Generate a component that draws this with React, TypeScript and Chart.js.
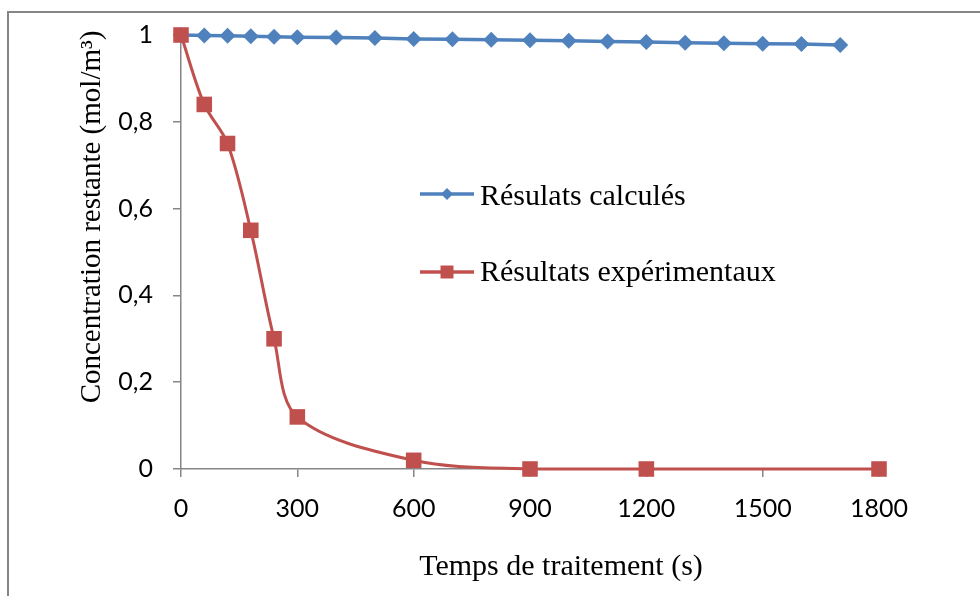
import React, { useEffect, useRef } from 'react';
import { Chart, registerables } from 'chart.js';

Chart.register(...registerables);

// ---- Data ----
const calcTimes = [0, 60, 120, 180, 240, 300, 400, 500, 600, 700, 800, 900, 1000, 1100, 1200, 1300, 1400, 1500, 1600, 1700];
const calcValues = [1, 0.999, 0.998, 0.997, 0.996, 0.995, 0.994, 0.993, 0.991, 0.99, 0.989, 0.988, 0.987, 0.985, 0.984, 0.982, 0.981, 0.98, 0.979, 0.977];
const expTimes = [0, 60, 120, 180, 240, 300, 600, 900, 1200, 1800];
const expValues = [1, 0.84, 0.75, 0.55, 0.3, 0.12, 0.02, 0, 0, 0];
const seriesNames = ['Résulats calculés', 'Résultats expérimentaux'];
const xTitle = 'Temps de traitement (s)';
const yTitle = 'Concentration restante (mol/m³)';
const xTickValues = [0, 300, 600, 900, 1200, 1500, 1800];
const yTickValues = [0, 0.2, 0.4, 0.6, 0.8, 1];

const BLUE = '#4F81BD';
const RED = '#C0504D';
const AXIS = '#868686';
const SERIF = '"Liberation Serif", "Times New Roman", serif';
const SANS = 'Lato, "Open Sans", sans-serif';

const decorPlugin = {
  id: 'decor',
  beforeDraw(chart: any) {
    const ctx = chart.ctx as CanvasRenderingContext2D;
    ctx.save();
    ctx.fillStyle = '#fff';
    ctx.fillRect(0, 0, chart.width, chart.height);
    ctx.strokeStyle = AXIS;
    ctx.lineWidth = 2;
    ctx.beginPath();
    ctx.moveTo(7, 12);
    ctx.lineTo(chart.width, 12);
    ctx.moveTo(8, 11);
    ctx.lineTo(8, chart.height);
    ctx.stroke();
    ctx.restore();
  },
  afterDraw(chart: any) {
    const ctx = chart.ctx as CanvasRenderingContext2D;
    ctx.save();
    // legend
    const items = [
      { color: BLUE, y: 194, shape: 'diamond', text: seriesNames[0], base: 205 },
      { color: RED, y: 272, shape: 'square', text: seriesNames[1], base: 281 },
    ];
    for (const it of items) {
      ctx.strokeStyle = it.color;
      ctx.lineWidth = 3.5;
      ctx.beginPath();
      ctx.moveTo(420, it.y);
      ctx.lineTo(474, it.y);
      ctx.stroke();
      ctx.fillStyle = it.color;
      ctx.beginPath();
      if (it.shape === 'diamond') {
        const r = 6;
        ctx.moveTo(447 - r, it.y);
        ctx.lineTo(447, it.y - r);
        ctx.lineTo(447 + r, it.y);
        ctx.lineTo(447, it.y + r);
        ctx.closePath();
      } else {
        ctx.rect(447 - 6.5, it.y - 6.5, 13, 13);
      }
      ctx.fill();
      ctx.fillStyle = '#000';
      ctx.font = '30px ' + SERIF;
      ctx.textAlign = 'left';
      ctx.textBaseline = 'alphabetic';
      ctx.fillText(it.text, 480, it.base);
    }
    // x title
    ctx.font = '30px ' + SERIF;
    ctx.textAlign = 'center';
    ctx.textBaseline = 'alphabetic';
    ctx.fillText(xTitle, 561, 575);
    // y title
    ctx.translate(100, 217);
    ctx.rotate(-Math.PI / 2);
    ctx.font = '29px ' + SERIF;
    ctx.textAlign = 'center';
    ctx.fillText(yTitle, 0, 0);
    ctx.restore();
  },
};

export default function App() {
  const ref = useRef<HTMLCanvasElement>(null);
  useEffect(() => {
    let chart: Chart | null = null;
    let cancelled = false;
    const make = () => {
      if (cancelled || !ref.current) return;
      chart = new Chart(ref.current, {
        type: 'line',
        data: {
          datasets: [
            {
              label: seriesNames[0],
              data: calcTimes.map((t, i) => ({ x: t, y: calcValues[i] })),
              borderColor: BLUE,
              backgroundColor: BLUE,
              borderWidth: 3.5,
              pointStyle: 'rectRot',
              pointRadius: 8,
              pointBorderWidth: 0,
              tension: 0,
              clip: false as any,
              order: 2,
            },
            {
              label: seriesNames[1],
              data: expTimes.map((t, i) => ({ x: t, y: expValues[i] })),
              borderColor: RED,
              backgroundColor: RED,
              borderWidth: 3,
              pointStyle: 'rect',
              pointRadius: 11,
              pointBorderWidth: 0,
              tension: 0.33,
              clip: false as any,
              order: 1,
            },
          ],
        },
        options: {
          responsive: false,
          animation: false,
          devicePixelRatio: 1,
          layout: { padding: { top: 33, right: 101, bottom: 67, left: 0 } },
          plugins: { legend: { display: false }, tooltip: { enabled: false } },
          scales: {
            x: {
              type: 'linear',
              min: 0,
              max: 1800,
              afterBuildTicks: (s: any) => { s.ticks = xTickValues.map((v) => ({ value: v })); },
              afterFit: (s: any) => { s.height = 60; },
              ticks: {
                color: '#000',
                font: { family: SANS, size: 25 },
                padding: 17,
                maxRotation: 0,
                autoSkip: false,
                callback: (v: any) => String(v),
              },
              grid: { display: true, drawOnChartArea: false, drawTicks: true, tickLength: 8, color: AXIS, lineWidth: 1.5 },
              border: { display: true, color: AXIS, width: 1.5 },
            },
            y: {
              type: 'linear',
              min: 0,
              max: 1,
              afterBuildTicks: (s: any) => { s.ticks = yTickValues.map((v) => ({ value: v })); },
              afterFit: (s: any) => { s.width = 181; },
              ticks: {
                color: '#000',
                font: { family: SANS, size: 25 },
                padding: 20,
                callback: (v: any) => String(Math.round(Number(v) * 10) / 10).replace('.', ','),
              },
              grid: { display: true, drawOnChartArea: false, drawTicks: true, tickLength: 8, color: AXIS, lineWidth: 1.5 },
              border: { display: true, color: AXIS, width: 1.5 },
            },
          },
        },
        plugins: [decorPlugin],
      });
    };
    const fontsReady = (document as any).fonts
      ? Promise.all([
          (document as any).fonts.load('30px "Liberation Serif"'),
          (document as any).fonts.load('25px Lato'),
        ]).catch(() => null)
      : Promise.resolve(null);
    fontsReady.then(make);
    return () => {
      cancelled = true;
      if (chart) chart.destroy();
    };
  }, []);
  return (
    <div style={{ position: 'absolute', left: 0, top: 0, width: 980, height: 596, background: '#fff' }}>
      <canvas ref={ref} width={980} height={596} style={{ display: 'block', width: 980, height: 596 }} />
    </div>
  );
}
